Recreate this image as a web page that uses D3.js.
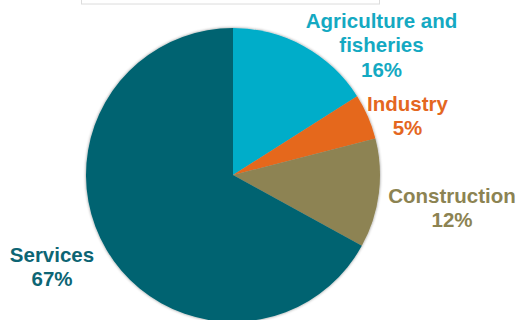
<!DOCTYPE html>
<html>
<head>
<meta charset="utf-8">
<script src="https://cdn.jsdelivr.net/npm/d3@7"></script>
<style>
  body { margin: 0; background: #fff; }
  svg { display: block; font-family: "Liberation Sans", Arial, sans-serif; }
</style>
</head>
<body>
<svg id="chart" width="522" height="320"></svg>
<script>
'use strict';

// sectors, clockwise from 12 o'clock
var sectors = ['Agriculture and fisheries', 'Industry', 'Construction', 'Services'];
var shares = [16, 5, 12, 67];
var labelLines = [['Agriculture and', 'fisheries', '16%'], ['Industry', '5%'], ['Construction', '12%'], ['Services', '67%']];
var colors = ['#00adc9', '#e5671b', '#8d8353', '#006471'];
var textColors = ['#14a9c2', '#e4671f', '#8c8352', '#0d6574'];

var cx = 233, cy = 175, radius = 147;
// label anchor points (centre of text block, first baseline)
var labelPos = [[381.5, 28], [407.5, 111], [452, 203], [52, 262]];

var svg = d3.select('#chart');

// faint box left over at the top
svg.append('rect')
	.attr('x', 81.5).attr('y', -10).attr('width', 298).attr('height', 14)
	.style('fill', '#fff').style('stroke', '#dcdcdc').style('stroke-width', 1);

var defs = svg.append('defs');
defs.append('filter').attr('id', 'shadow')
	.attr('x', '-10%').attr('y', '-10%').attr('width', '120%').attr('height', '120%')
	.append('feDropShadow')
	.attr('dx', 0).attr('dy', 0).attr('stdDeviation', 1.6)
	.attr('flood-color', '#000').attr('flood-opacity', 0.45);

var pie = d3.pie().sort(null).value(function (d) { return d; });
var arc = d3.arc().innerRadius(0).outerRadius(radius);

var g = svg.append('g')
	.attr('transform', 'translate(' + cx + ',' + cy + ')')
	.attr('filter', 'url(#shadow)');

g.selectAll('path')
	.data(pie(shares))
	.enter().append('path')
	.attr('d', arc)
	.style('fill', function (d, i) { return colors[i]; });

var labels = svg.selectAll('text.lbl')
	.data(sectors)
	.enter().append('text')
	.attr('class', 'lbl')
	.attr('text-anchor', 'middle')
	.style('font-size', '20.5px')
	.style('font-weight', 'bold')
	.style('fill', function (d, i) { return textColors[i]; });

labels.each(function (d, i) {
	var t = d3.select(this);
	labelLines[i].forEach(function (line, j) {
		t.append('tspan')
			.attr('x', labelPos[i][0])
			.attr('y', labelPos[i][1] + j * 24.3)
			.text(line);
	});
});
</script>
</body>
</html>
